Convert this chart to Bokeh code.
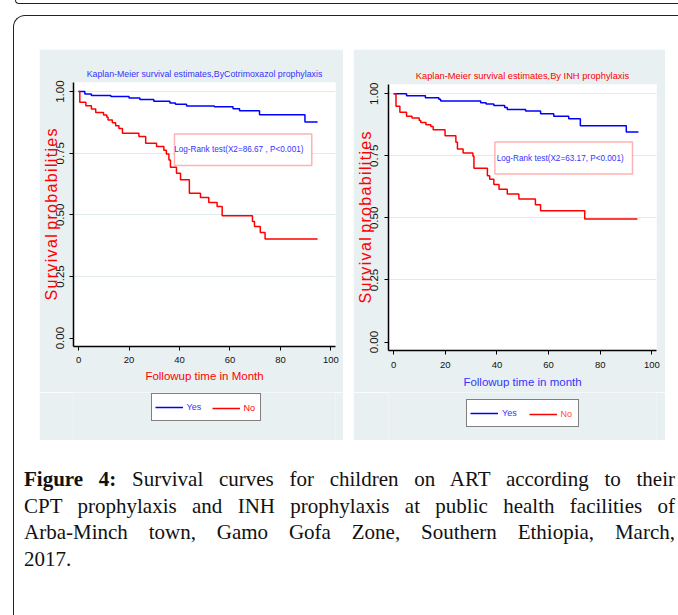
from bokeh.plotting import figure
from bokeh.models import (Range1d, FixedTicker, Legend, LegendItem, Label,
                          BoxAnnotation, Div, NumeralTickFormatter)
from bokeh.layouts import row, column
from bokeh.embed import file_html
from bokeh.resources import INLINE

# ---------------- data ----------------
x_ticks = [0, 20, 40, 60, 80, 100]
y_ticks = [0.0, 0.25, 0.5, 0.75, 1.0]

# Cotrimoxazole prophylaxis
cpt_yes_t = [0, 2.5, 5.1, 12.8, 20.0, 24.3, 29.8, 36.2, 38.4, 42.8, 53.8, 61.2, 63.8, 71.7, 89.7, 94.7]
cpt_yes_s = [1.0, 0.990, 0.984, 0.980, 0.974, 0.968, 0.961, 0.954, 0.949, 0.942, 0.939, 0.931, 0.922, 0.906, 0.877, 0.877]
cpt_no_t = [0, 0.5, 2.9, 5.1, 6.8, 9.9, 11.2, 11.7, 13.4, 14.7, 16.0, 17.4, 23.9, 26.6, 30.9, 33.8,
            34.8, 35.8, 36.4, 38.8, 40.4, 43.9, 48.3, 51.6, 54.9, 56.9, 68.9, 69.7, 72.0, 73.9, 94.7]
cpt_no_s = [1.0, 0.957, 0.943, 0.929, 0.915, 0.905, 0.896, 0.885, 0.874, 0.862, 0.850, 0.831, 0.818, 0.791, 0.777, 0.762,
            0.747, 0.723, 0.693, 0.669, 0.642, 0.588, 0.570, 0.550, 0.534, 0.496, 0.473, 0.453, 0.428, 0.402, 0.402]

# INH prophylaxis
inh_yes_t = [0, 5.0, 12.3, 17.5, 18.2, 33.7, 35.8, 38.8, 43.0, 44.0, 51.1, 56.9, 62.0, 67.8, 72.3, 90.1, 94.8]
inh_yes_s = [1.0, 0.992, 0.984, 0.978, 0.971, 0.964, 0.958, 0.952, 0.944, 0.936, 0.930, 0.919, 0.909, 0.899, 0.871, 0.846, 0.846]
inh_no_t = [0, 0.9, 2.4, 5.0, 7.1, 9.9, 10.5, 12.5, 14.4, 15.3, 19.9, 24.1, 24.7, 26.9, 30.7, 31.1,
            36.3, 37.2, 38.8, 40.8, 44.0, 48.5, 54.9, 56.9, 74.0, 94.4]
inh_no_s = [1.0, 0.949, 0.925, 0.909, 0.902, 0.892, 0.884, 0.875, 0.868, 0.855, 0.831, 0.804, 0.777, 0.761, 0.748, 0.700,
            0.670, 0.656, 0.634, 0.615, 0.596, 0.576, 0.553, 0.529, 0.495, 0.495]

legend_labels = ["Yes", "No"]
titles = ["Kaplan-Meier survival estimates,ByCotrimoxazol prophylaxis",
          "Kaplan-Meier survival estimates,By INH prophylaxis"]
x_titles = ["Followup time in Month", "Followup time in month"]
y_title = "Survival probabilities"
logrank_texts = ["Log-Rank test(X2=86.67 , P<0.001)", "Log-Rank test(X2=63.17, P<0.001)"]

caption_lines = [
    "<b>Figure 4:</b> Survival curves for children on ART according to their",
    "CPT prophylaxis and INH prophylaxis at public health facilities of",
    "Arba-Minch town, Gamo Gofa Zone, Southern Ethiopia, March,",
    "2017.",
]

# ---------------- styling ----------------
PANEL_BG = "#e9f0f2"
GRID = "#e1eaed"
SANS = "Liberation Sans"
BLUE_TXT = "#3434ff"
RED = "#ff0000"
HAIR = "\u200a"
spaced_y_title = " ".join(HAIR.join(w) for w in y_title.split(" "))


def km_chart(width, mb, title, title_color, title_size, xtitle, xtitle_color,
             yes_t, yes_s, no_t, no_s, lr_text, lr_box, lr_xy,
             ytick_std, ytitle_std, xtick_std, xtitle_std):
    p = figure(width=width, height=343, output_backend="svg", toolbar_location=None,
               x_range=Range1d(-2.0, 101.8), y_range=Range1d(-0.034, 1.037),
               min_border_left=mb[0], min_border_right=mb[1],
               min_border_top=mb[2], min_border_bottom=mb[3],
               background_fill_color="white", border_fill_color=PANEL_BG,
               outline_line_color=None)
    p.title.text = title
    p.title.align = "center"
    p.title.text_color = title_color
    p.title.text_font = SANS
    p.title.text_font_size = f"{title_size}px"
    p.title.text_font_style = "normal"
    p.title.standoff = 7

    for ax in (p.xaxis[0], p.yaxis[0]):
        ax.axis_line_color = "black"
        ax.axis_line_width = 1.5
        ax.major_tick_line_color = "black"
        ax.major_tick_in = 0
        ax.major_tick_out = 4
        ax.minor_tick_line_color = None
        ax.major_label_text_color = "#111111"
        ax.axis_label_text_font_style = "normal"
    p.xaxis.ticker = FixedTicker(ticks=x_ticks)
    p.xaxis.major_label_text_font = SANS
    p.xaxis.major_label_text_font_size = "9.5px"
    p.xaxis.major_label_standoff = xtick_std
    p.xaxis.axis_label = xtitle
    p.xaxis.axis_label_text_color = xtitle_color
    p.xaxis.axis_label_text_font = SANS
    p.xaxis.axis_label_text_font_size = "11.5px"
    p.xaxis.axis_label_standoff = xtitle_std

    p.yaxis.ticker = FixedTicker(ticks=y_ticks)
    p.yaxis.formatter = NumeralTickFormatter(format="0.00")
    p.yaxis.major_label_orientation = "vertical"
    p.yaxis.major_label_text_font = SANS
    p.yaxis.major_label_text_font_size = "11.5px"
    p.yaxis.major_label_standoff = ytick_std
    p.yaxis.axis_label = spaced_y_title
    p.yaxis.axis_label_text_color = RED
    p.yaxis.axis_label_text_font = SANS
    p.yaxis.axis_label_text_font_size = "16px"
    p.yaxis.axis_label_standoff = ytitle_std

    p.xgrid.visible = False
    p.ygrid.ticker = FixedTicker(ticks=y_ticks[1:])
    p.ygrid.grid_line_color = GRID
    p.ygrid.grid_line_width = 1

    p.step(yes_t, yes_s, mode="after", line_color="blue", line_width=1.5)
    p.step(no_t, no_s, mode="after", line_color="red", line_width=1.5)

    p.add_layout(BoxAnnotation(left=lr_box[0], right=lr_box[1], bottom=lr_box[2], top=lr_box[3],
                               fill_color="white", fill_alpha=1.0,
                               line_color="red", line_width=1.5, level="annotation"))
    p.add_layout(Label(x=lr_xy[0], y=lr_xy[1], text=lr_text, text_align="center",
                       text_baseline="middle", text_font=SANS, text_font_size="8.2px",
                       text_color=BLUE_TXT))
    return p


def legend_strip(width, mb, yes_t, yes_s, no_t, no_s, locA, locB, labw, no_color):
    # same horizontal frame as the chart above it; only the legend is visible here
    q = figure(width=width, height=48, output_backend="svg", toolbar_location=None,
               x_axis_type=None, y_axis_type=None,
               x_range=Range1d(0, 1), y_range=Range1d(10, 11),
               min_border_left=mb[0], min_border_right=mb[1],
               min_border_top=0, min_border_bottom=0,
               background_fill_color=PANEL_BG, border_fill_color=PANEL_BG,
               outline_line_color=None)
    q.xgrid.visible = False
    q.ygrid.visible = False
    r_yes = q.step(yes_t, yes_s, mode="after", line_color="blue", line_width=1.5)
    r_no = q.step(no_t, no_s, mode="after", line_color="red", line_width=1.5)
    common = dict(orientation="horizontal", padding=3, margin=0, spacing=0,
                  glyph_width=28, glyph_height=20, label_height=20, label_standoff=4,
                  label_text_font=SANS, label_text_font_size="9px")
    q.add_layout(Legend(items=[LegendItem(label=legend_labels[0], renderers=[r_yes])],
                        location=locA, label_width=labw, label_text_color=BLUE_TXT,
                        border_line_color="black", border_line_width=1,
                        background_fill_color="white", background_fill_alpha=1.0, **common))
    q.add_layout(Legend(items=[LegendItem(label=legend_labels[1], renderers=[r_no])],
                        location=locB, label_width=10, label_text_color=no_color,
                        border_line_color=None, background_fill_alpha=0.0, **common))
    return q


p1 = km_chart(304, (33, 8, 33, 46), titles[0], BLUE_TXT, 8.8, x_titles[0], RED,
              cpt_yes_t, cpt_yes_s, cpt_no_t, cpt_no_s, logrank_texts[0],
              (38.0, 92.4, 0.700, 0.8285), (63.5, 0.764),
              5, -6, 6, 4)
p2 = km_chart(312, (35, 9, 35, 42), titles[1], RED, 9.3, x_titles[1], BLUE_TXT,
              inh_yes_t, inh_yes_s, inh_no_t, inh_no_s, logrank_texts[1],
              (39.2, 92.5, 0.6766, 0.8055), (64.5, 0.741),
              6, -6, 7, 5)
l1 = legend_strip(304, (33, 8), cpt_yes_t, cpt_yes_s, cpt_no_t, cpt_no_s,
                  (77.5, 19), (138.5, 22), 70, RED)
l2 = legend_strip(312, (35, 9), inh_yes_t, inh_yes_s, inh_no_t, inh_no_s,
                  (78, 13), (140.5, 16), 73, "#ff4a30")

justify = "text-align:justify;text-align-last:justify;"
cap_html = ("<div style=\"width:651px;font-family:'Liberation Serif',serif;font-size:21px;"
            "line-height:26.7px;color:#111;\">"
            + "".join(f"<div style='{justify}width:651px;'>{ln}</div>" if i < 3
                      else f"<div style='width:651px;'>{ln}</div>"
                      for i, ln in enumerate(caption_lines))
            + "</div>")
caption = Div(text=cap_html, width=651, height=110, margin=(26, 0, 0, 10))

prev = Div(text="", width=663, height=4, margin=(0, 0, 0, 15),
           styles={"border-left": "1.5px solid #222", "border-bottom": "1.5px solid #222",
                   "border-bottom-left-radius": "6px", "box-sizing": "border-box"})

charts = row(column(p1, l1, spacing=0), column(p2, l2, spacing=0), spacing=10, margin=(33, 0, 0, 25))
framed = column(charts, caption, width=665, height=600, margin=(11, 0, 0, 13),
                styles={"border-left": "1.5px solid #222", "border-top": "1.5px solid #222",
                        "border-top-left-radius": "12px"})
root = column(prev, framed)

open("out.html", "w").write(file_html(root, INLINE))
